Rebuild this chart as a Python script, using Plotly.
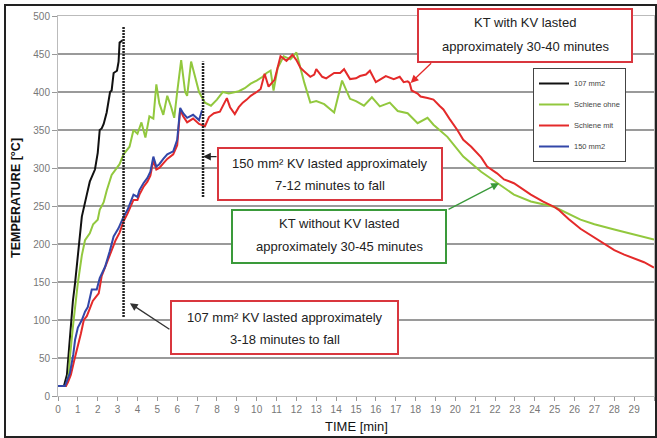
import plotly.graph_objects as go

# ---------------- data ----------------
t_107 = [0, 0.3, 0.45, 0.6, 0.75, 0.86, 1.0, 1.1, 1.2, 1.45, 1.6, 1.86, 2.0, 2.1, 2.2, 2.3, 2.45, 2.62,
         2.7, 2.8, 2.97, 3.05, 3.1, 3.25]
T_107 = [13, 13, 28, 83, 125, 149, 185, 205, 236, 265, 282, 298, 320, 350, 352, 358, 373, 400,
         402, 425, 428, 440, 465, 468]

t_ohne = [0, 0.4, 0.55, 0.6, 0.77, 1.0, 1.2, 1.36, 1.6, 1.77, 2.0, 2.1, 2.3, 2.45, 2.7, 2.9, 3.1, 3.3,
          3.6, 3.8, 4.0, 4.2, 4.4, 4.6, 4.8, 4.95, 5.1, 5.3, 5.5, 5.7, 5.85, 6.0, 6.2, 6.4, 6.5, 6.7,
          6.9, 7.1, 7.4, 7.7, 8.0, 8.3, 8.6, 8.9, 9.1, 9.4, 9.7, 10.0, 10.3, 10.5, 10.7, 10.85, 11.06,
          11.36, 11.7, 12.0, 12.2, 12.4, 12.7, 13.0, 13.4, 13.9, 14.3, 14.7, 15.0, 15.4, 15.8, 16.2,
          16.7, 17.1, 17.6, 18.1, 18.6, 18.9, 19.6, 20.4, 21.3, 22.1, 22.95, 23.8, 24.97, 26.3, 27.0,
          28.0, 29.0, 30.0]
T_ohne = [13, 13, 30, 51, 96, 149, 185, 205, 214, 226, 232, 245, 255, 270, 291, 298, 305, 318,
          328, 350, 345, 360, 340, 368, 365, 410, 385, 370, 395, 380, 366, 400, 442, 400, 395, 440,
          420, 400, 386, 382, 390, 400, 398, 400, 401, 405, 411, 415, 420, 425, 428, 402, 432,
          447, 443, 452, 430, 412, 386, 388, 384, 373, 415, 391, 388, 382, 393, 381,
          386, 375, 372, 359, 366, 357, 341, 315, 295, 280, 265, 256, 249, 232, 226,
          219, 212, 206]

t_mit = [0, 0.4, 0.5, 0.65, 0.8, 1.0, 1.15, 1.3, 1.45, 1.6, 1.75, 1.9, 2.05, 2.2, 2.35, 2.5, 2.7, 2.9,
         3.1, 3.3, 3.5, 3.8, 4.0, 4.1, 4.3, 4.5, 4.65, 4.8, 4.95, 5.1, 5.3, 5.5, 5.8, 6.0, 6.15, 6.3,
         6.5, 6.8, 7.1, 7.3, 7.4, 7.6, 7.85, 8.15, 8.5, 8.66, 8.9, 9.1, 9.3, 9.5, 9.7, 10.0, 10.2,
         10.4, 10.6, 10.9, 11.2, 11.5, 11.8, 12.0, 12.2, 12.4, 12.7, 12.9, 13.0, 13.3, 13.5, 13.9,
         14.2, 14.4, 14.7, 15.0, 15.2, 15.5, 15.7, 16.0, 16.3, 16.5, 16.9, 17.2, 17.4, 17.6, 17.7,
         17.8, 18.1, 18.25, 18.6, 18.9, 19.2, 19.4, 19.7, 20.1, 20.4, 20.8, 21.3, 21.6, 22.1, 22.45,
         22.95, 23.4, 23.8, 24.4, 24.97, 25.2, 25.7, 26.3, 27.0, 27.5, 28.0, 28.5, 29.0, 29.5, 30.0]
T_mit = [13, 13, 18, 28, 45, 65, 82, 100, 105, 115, 125, 130, 135, 158, 168, 178, 190, 205,
         215, 230, 240, 258, 258, 265, 275, 282, 290, 310, 298, 300, 306, 312, 318, 330, 377, 368,
         360, 365, 358, 356, 355, 367, 372, 374, 392, 380, 371, 380, 386, 390, 395, 400, 404,
         424, 407, 416, 447, 441, 449, 442, 432, 427, 420, 423, 430, 420, 418, 425,
         425, 430, 417, 418, 421, 423, 428, 413, 418, 421, 417, 420, 413, 414, 412,
         402, 398, 394, 392, 390, 382, 377, 365, 350, 337, 328, 314, 302, 293, 285,
         280, 272, 265, 256, 249, 245, 233, 220, 208, 200, 192, 186, 181, 176, 169]

t_150 = [0, 0.35, 0.45, 0.6, 0.77, 0.86, 1.0, 1.2, 1.36, 1.5, 1.7, 1.95, 2.1, 2.37, 2.6, 2.8, 3.05,
         3.3, 3.5, 3.8, 4.0, 4.1, 4.3, 4.5, 4.65, 4.8, 4.95, 5.1, 5.3, 5.5, 5.8, 6.0, 6.15, 6.3, 6.5,
         6.8, 7.1, 7.25]
T_150 = [13, 13, 20, 30, 55, 74, 90, 100, 111, 117, 140, 140, 155, 170, 190, 210, 221,
         236, 245, 265, 262, 271, 280, 287, 295, 315, 302, 305, 312, 318, 322, 337, 379, 372, 366,
         370, 363, 376]

# dotted "fall" marker lines
marker_t = [3.3, 7.3]
marker_lo = [104, 262]
marker_hi = [486, 440]

series_names = ["107 mm2", "Schiene ohne", "Schiene mit", "150 mm2"]
series_colors = ["#111111", "#92c83e", "#e42a2a", "#3347a8"]

# ---------------- layout helpers (pixel -> paper) ----------------
W, H = 657, 438
ML, MR, MT, MB = 58, 3, 16, 42
PW, PH = W - ML - MR, H - MT - MB


def xp(px):
    return (px - ML) / PW


def yp(py):
    return (H - MB - py) / PH


fig = go.Figure()

for i, (tx, ty) in enumerate([(t_107, T_107), (t_ohne, T_ohne), (t_mit, T_mit), (t_150, T_150)]):
    fig.add_trace(go.Scatter(x=tx, y=ty, mode="lines", name=series_names[i],
                             line=dict(color=series_colors[i], width=2),
                             legendgroup=str(i)))

for mt, lo, hi in zip(marker_t, marker_lo, marker_hi):
    fig.add_trace(go.Scatter(x=[mt, mt], y=[lo, hi], mode="lines", showlegend=False,
                             line=dict(color="#222222", width=2.5, dash="2px,1px"),
                             hoverinfo="skip"))

shapes = []
annotations = []

# outer frame
shapes.append(dict(type="rect", xref="paper", yref="paper",
                   x0=xp(5), x1=xp(656), y0=yp(437), y1=yp(5),
                   line=dict(color="#222222", width=2), fillcolor="rgba(0,0,0,0)", layer="below"))

boxes = [
    (418, 632, 9, 62, "#d9363e", "KT with KV lasted", "approximately 30-40 minutes", 23, 46),
    (218, 442, 148, 200, "#d9363e", "150 mm² KV lasted approximately", "7-12 minutes to fall", 163, 186),
    (232, 446, 210, 263, "#3a9a3a", "KT without KV lasted", "approximately 30-45 minutes", 223, 246),
    (171, 398, 301, 354, "#d9363e", "107 mm² KV lasted approximately", "3-18 minutes to fall", 317, 339),
]
for x0, x1, y0, y1, col, l1, l2, ty1, ty2 in boxes:
    shapes.append(dict(type="rect", xref="paper", yref="paper",
                       x0=xp(x0), x1=xp(x1), y0=yp(y1), y1=yp(y0),
                       line=dict(color=col, width=2), fillcolor="white", layer="above"))
    for txt, ty in ((l1, ty1), (l2, ty2)):
        annotations.append(dict(xref="paper", yref="paper", x=xp((x0 + x1) / 2), y=yp(ty),
                                text=txt, showarrow=False, xanchor="center", yanchor="middle",
                                font=dict(family="Liberation Sans, Arial", size=13, color="#222222")))

arrows = [
    (17.75, 412, 22, -21, "#e42a2a"),
    (7.3, 315, 15, 0, "#222222"),
    (22.2, 280, -52, 27, "#3a9a3a"),
    (3.62, 122, 41, 27, "#333333"),
]
for x, y, ax, ay, col in arrows:
    annotations.append(dict(xref="x", yref="y", x=x, y=y, ax=ax, ay=ay, axref="pixel", ayref="pixel",
                            text="", showarrow=True, arrowhead=2, arrowsize=1.2, arrowwidth=1.3,
                            arrowcolor=col))

annotations.append(dict(xref="paper", yref="paper", x=xp(356), y=yp(426), text="TIME [min]",
                        showarrow=False, xanchor="center", yanchor="middle",
                        font=dict(family="Liberation Sans, Arial", size=13, color="#111111")))
annotations.append(dict(xref="paper", yref="paper", x=xp(16), y=yp(198), text="<b>TEMPERATURE [°C]</b>",
                        showarrow=False, textangle=-90, xanchor="center", yanchor="middle",
                        font=dict(family="Liberation Sans, Arial", size=12.5, color="#111111")))

fig.update_layout(
    width=W, height=H,
    margin=dict(l=ML, r=MR, t=MT, b=MB),
    paper_bgcolor="white", plot_bgcolor="white",
    showlegend=True,
    legend=dict(x=xp(533), y=yp(68), xanchor="left", yanchor="top",
                bgcolor="white", bordercolor="#444444", borderwidth=1,
                font=dict(family="Liberation Sans, Arial", size=7.5, color="#444444"),
                tracegroupgap=2, itemwidth=30),
    shapes=shapes,
    annotations=annotations,
    xaxis=dict(range=[0, 30], tickmode="linear", tick0=0, dtick=1, showgrid=False,
               showline=True, linecolor="#bbbbbb", linewidth=1, mirror=True,
               ticks="outside", ticklen=4, tickcolor="#999999",
               tickfont=dict(family="Liberation Sans, Arial", size=10, color="#777777"),
               zeroline=False),
    yaxis=dict(range=[0, 500], tickmode="linear", tick0=0, dtick=50, showgrid=True,
               gridcolor="#9a9a9a", gridwidth=1.5,
               showline=True, linecolor="#bbbbbb", linewidth=1, mirror=True,
               ticks="outside", ticklen=5, tickcolor="#999999",
               tickfont=dict(family="Liberation Sans, Arial", size=10, color="#777777"),
               zeroline=False),
)

fig.write_html("out.html", config={"displayModeBar": False},
               post_script="document.body.style.margin='0px';document.body.style.padding='0px';")
